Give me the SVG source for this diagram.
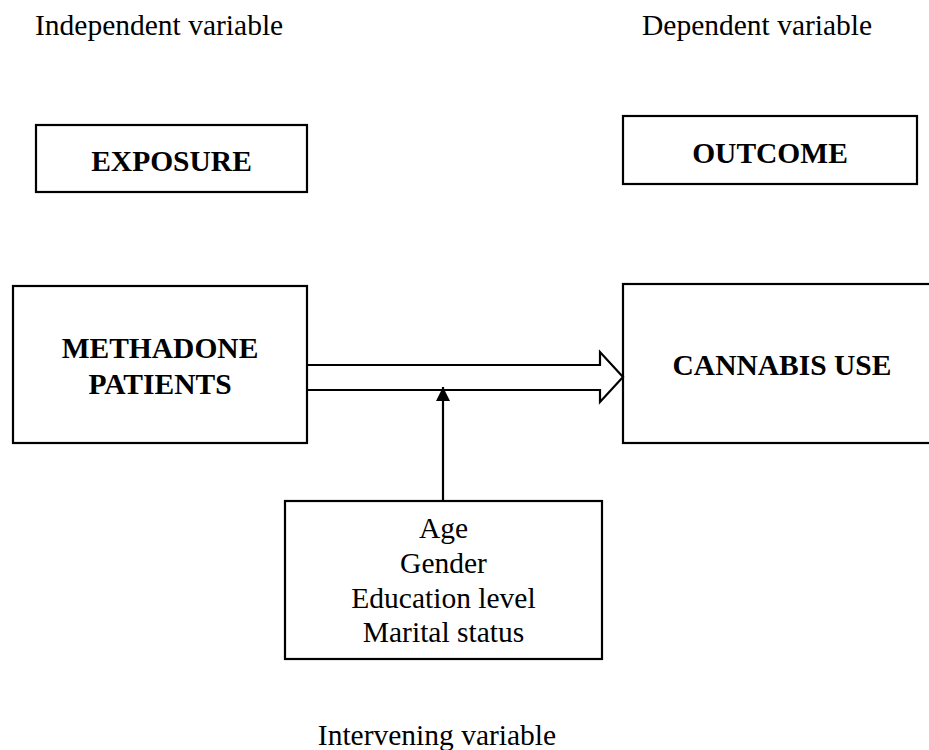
<svg xmlns="http://www.w3.org/2000/svg" width="929" height="750" viewBox="0 0 929 750">
<defs>
<style>
.box{fill:#fff;stroke:#000;stroke-width:2.2}
.t{font-family:"Liberation Serif","Times New Roman",serif;font-size:29.5px;fill:#000}
.b{font-weight:bold;text-anchor:middle}
.c{text-anchor:middle}
.ln{fill:none;stroke:#000;stroke-width:2.2}
</style>
<marker id="ah" viewBox="0 0 10 10" refX="10" refY="5" markerWidth="6.4" markerHeight="6.4" markerUnits="strokeWidth" orient="auto">
<path d="M0,0 L10,5 L0,10 Z" fill="#000"/>
</marker>
</defs>
<rect width="929" height="750" fill="#fff"/>
<text class="t" x="35" y="35">Independent variable</text>
<text class="t" x="642" y="35">Dependent variable</text>
<g id="exposure">
<rect class="box" x="36" y="125" width="271" height="67"/>
<text class="t b" x="171.5" y="171">EXPOSURE</text>
</g>
<g id="outcome">
<rect class="box" x="623" y="116" width="294" height="68"/>
<text class="t b" x="770" y="163">OUTCOME</text>
</g>
<g id="methadone">
<rect class="box" x="13" y="286" width="294" height="157"/>
<text class="t b" x="160" y="358">METHADONE</text>
<text class="t b" x="160" y="394">PATIENTS</text>
</g>
<g id="cannabis">
<rect class="box" x="623" y="284" width="310" height="159"/>
<text class="t b" x="782" y="375">CANNABIS USE</text>
</g>
<g id="intervening">
<rect class="box" x="285" y="501" width="317" height="158"/>
<text class="t c" x="443.5" y="538">Age</text>
<text class="t c" x="443.5" y="573">Gender</text>
<text class="t c" x="443.5" y="608">Education level</text>
<text class="t c" x="443.5" y="642">Marital status</text>
</g>
<text class="t c" x="437" y="745">Intervening variable</text>
<g id="connectors">
<path class="ln" d="M307,365 L600,365 L600,352 L623,377 L600,402 L600,390 L307,390"/>
<line class="ln" x1="443" y1="501" x2="443" y2="387" marker-end="url(#ah)"/>
</g>
</svg>
